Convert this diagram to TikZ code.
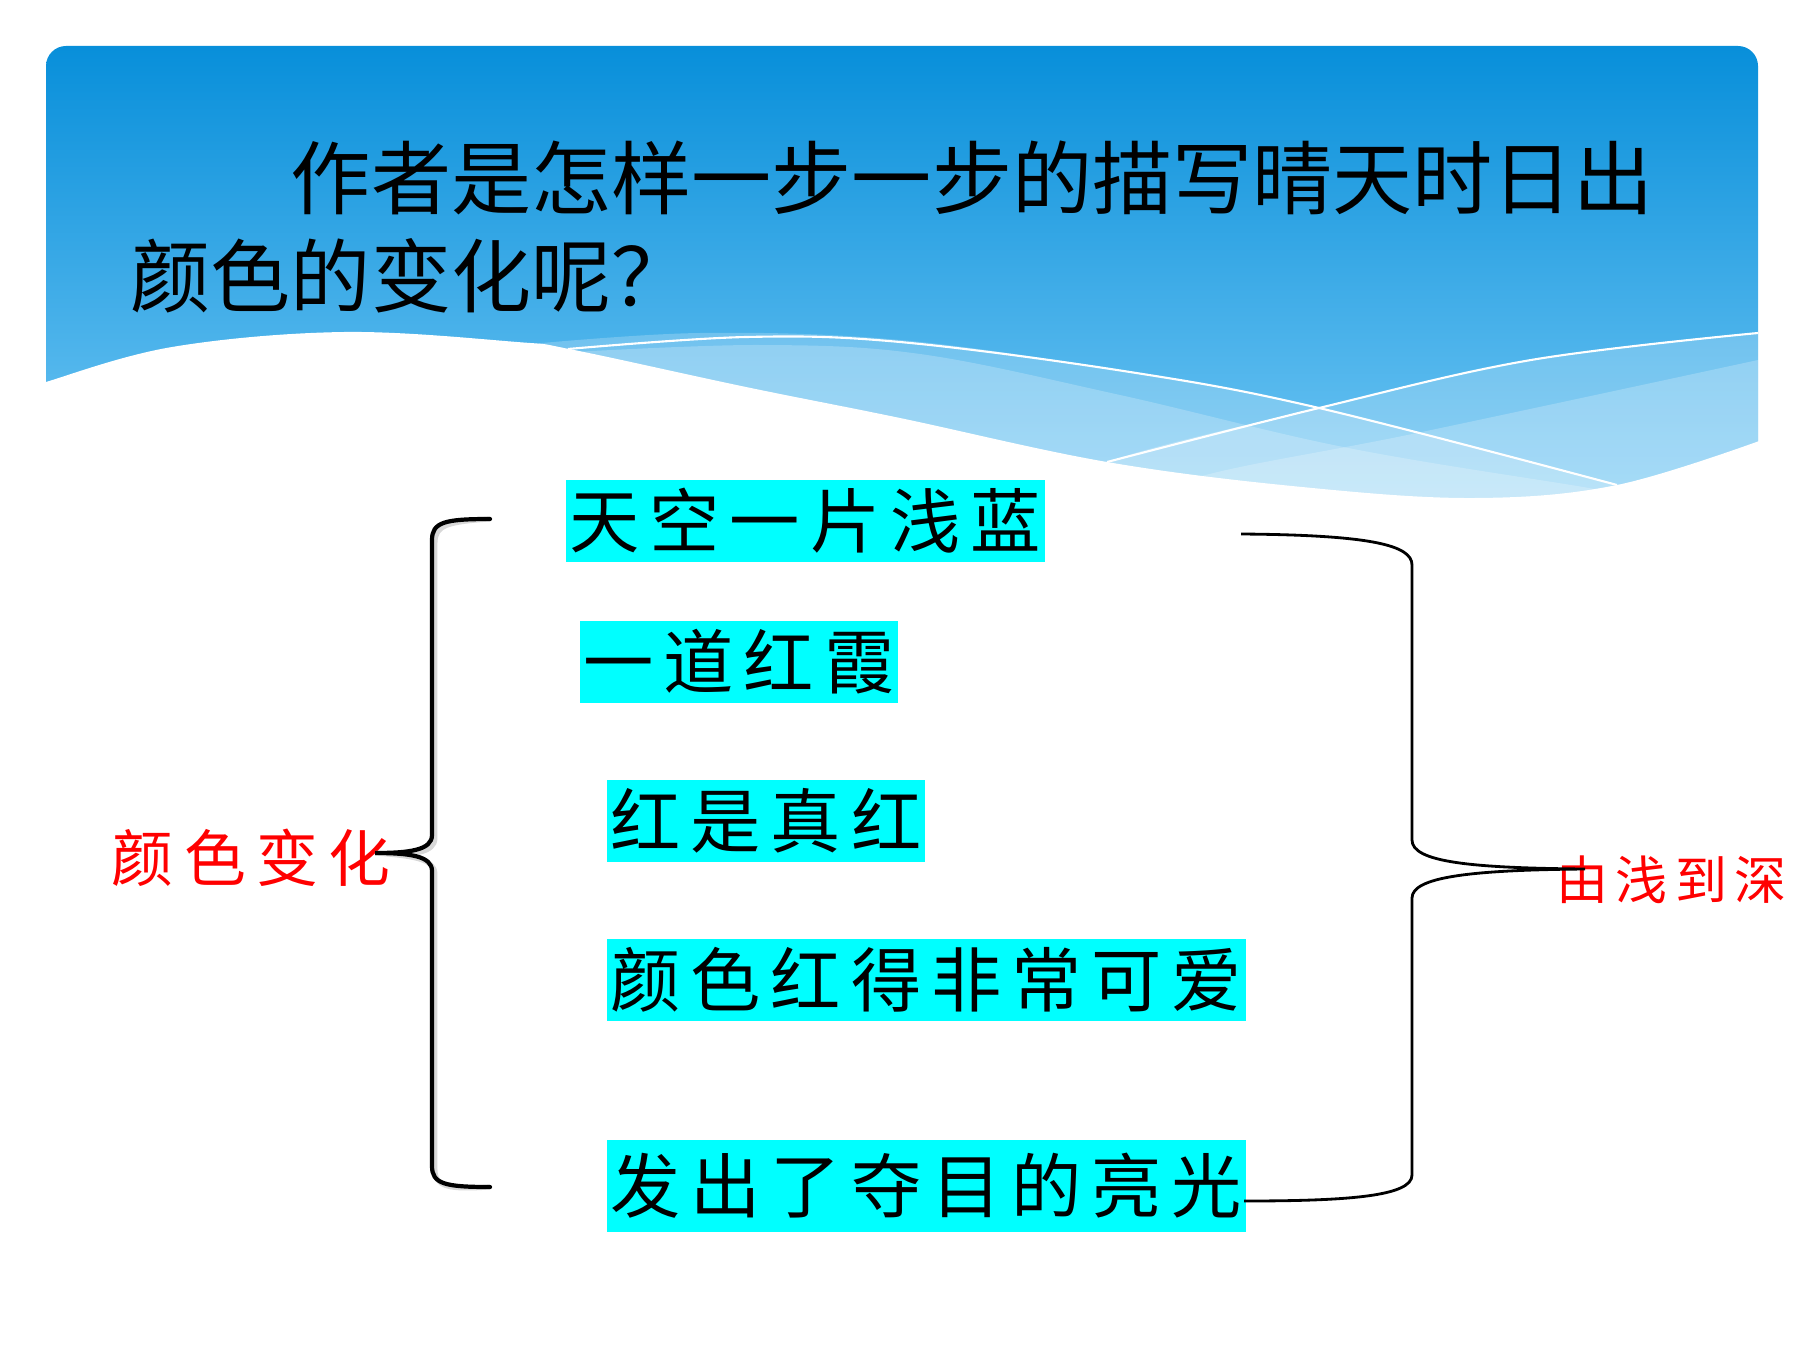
\documentclass[tikz,border=0pt]{standalone}
\usepackage{fontspec}
\usepackage{tikz}
\newfontfamily\cjk{Noto Sans CJK SC}
\newfontfamily\boxfont{Noto Sans CJK SC}[LetterSpace=14]
\newfontfamily\labelfont{Noto Sans CJK SC}[LetterSpace=17]
\newfontfamily\smalllabelfont{Noto Sans CJK SC}[LetterSpace=14]
\definecolor{hdtop}{RGB}{8,143,218}
\definecolor{hdbot}{RGB}{125,205,247}
\definecolor{boxcyan}{RGB}{0,255,255}
\tikzset{
  colorbox/.style={fill=boxcyan, anchor=west, inner xsep=0.4mm, inner ysep=0pt, minimum height=8.2mm, font=\boxfont\fontsize{20}{24}\selectfont},
  redlabel/.style={text=red, anchor=west, inner sep=0pt},
  bracethick/.style={line width=1.2pt, line cap=round},
  braceshadow/.style={line width=1.4pt, gray!60, opacity=0.5},
  bracethin/.style={line width=0.8pt},
  waveline/.style={white, line width=0.6pt},
  waveband/.style={white, fill opacity=0.22}
}

\begin{document}
\begin{tikzpicture}[x=0.1mm, y=-0.1mm]
  \useasboundingbox (0,0) rectangle (1800,1350);
  \shade[top color=hdtop, bottom color=hdbot, rounded corners=2mm] (46,560) -- (46,46) -- (1758,46) -- (1758,560) -- cycle;
  \fill[waveband] plot[smooth, tension=0.6] coordinates {(520,345) (700,333) (900,340) (1130,372) (1319,408) (1617,485)} -- (1617,600) -- (520,600) -- cycle;
  \fill[waveband] plot[smooth, tension=0.6] coordinates {(574,352) (760,345) (920,354) (1120,395) (1348,448) (1589,488) (1650,500)} -- (1650,600) -- (574,600) -- cycle;
  \fill[waveband] plot[smooth, tension=0.6] coordinates {(1000,520) (1107,462) (1319,408) (1531,360) (1758,333)} -- (1758,600) -- (1000,600) -- cycle;
  \fill[waveband] plot[smooth, tension=0.6] coordinates {(1100,520) (1198,477) (1417,433) (1758,360)} -- (1758,600) -- (1100,600) -- cycle;
  \draw[waveline] plot[smooth, tension=0.6] coordinates {(568,349) (746,337) (900,342) (1130,372) (1319,408) (1617,485)};
  \draw[waveline] plot[smooth, tension=0.6] coordinates {(1107,462) (1319,408) (1531,360) (1758,333)};
  \fill[white] plot[smooth, tension=0.6] coordinates {(40,386) (46,382) (172,347) (344,332) (517,342) (574,350) (746,387) (900,418) (1107,462) (1302,487) (1474,498) (1617,485) (1762,440)} -- (1775,600) -- (40,600) -- cycle;

  \node[anchor=west, inner sep=0pt, align=left, font=\cjk\fontsize{22.8}{27.9}\selectfont] (title) at (130,227) {\hspace*{2em}作者是怎样一步一步的描写晴天时日出\\颜色的变化呢？};

  \node[colorbox] (a) at (565,521) {天空一片浅蓝};
  \node[colorbox] (b) at (579,662) {一道红霞};
  \node[colorbox] (c) at (606,821) {红是真红};
  \node[colorbox] (d) at (606,980) {颜色红得非常可爱};
  \node[colorbox, minimum height=9.2mm] (e) at (606,1186) {发出了夺目的亮光};

  \node[redlabel, font=\labelfont\fontsize{17.6}{20}\selectfont] (change) at (111,858) {颜色变化};
  \node[redlabel, font=\smalllabelfont\fontsize{14.8}{18}\selectfont] (deeper) at (1556,880) {由浅到深};

  \coordinate (lbt) at (490,519);
  \coordinate (lbm) at (375,853);
  \coordinate (lbb) at (490,1187);
  \coordinate (rbt) at (1241,534);
  \coordinate (rbm) at (1585,869);
  \coordinate (rbb) at (1244,1201);

  \draw[braceshadow, shift={(3,3)}] (lbt) .. controls (445,519) and (432,522) .. (432,540) -- (432,835) .. controls (432,850) and (410,853) .. (lbm) .. controls (410,853) and (432,856) .. (432,871) -- (432,1166) .. controls (432,1184) and (445,1187) .. (lbb);
  \draw[bracethick] (lbt) .. controls (445,519) and (432,522) .. (432,540) -- (432,835) .. controls (432,850) and (410,853) .. (lbm) .. controls (410,853) and (432,856) .. (432,871) -- (432,1166) .. controls (432,1184) and (445,1187) .. (lbb);
  \draw[bracethin] (rbt) .. controls (1370,535) and (1412,545) .. (1412,565) -- (1412,840) .. controls (1412,862) and (1470,868) .. (rbm) .. controls (1470,870) and (1412,877) .. (1412,898) -- (1412,1175) .. controls (1412,1196) and (1350,1201) .. (rbb);
\end{tikzpicture}
\end{document}
